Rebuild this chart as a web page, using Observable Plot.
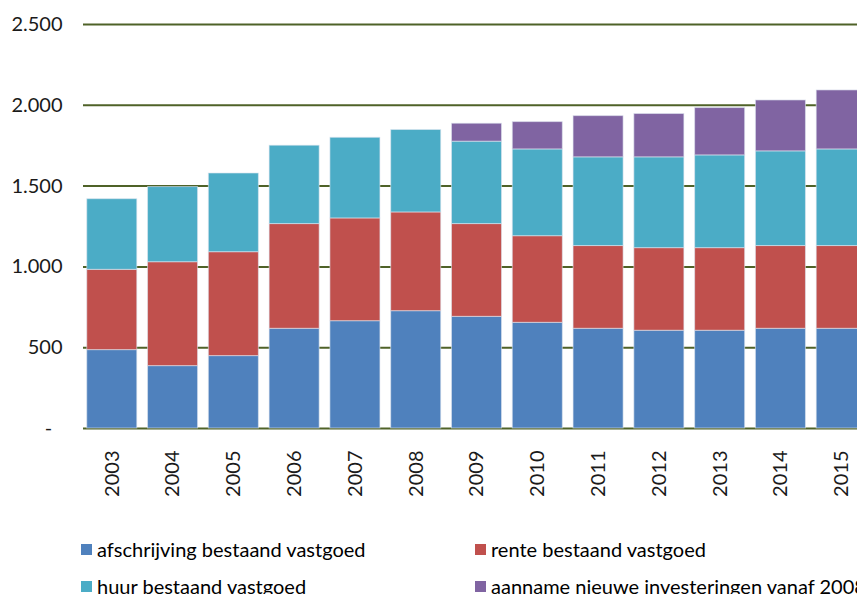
<!DOCTYPE html>
<html>
<head>
<meta charset="utf-8">
<script src="https://cdn.jsdelivr.net/npm/d3@7"></script>
<script src="https://cdn.jsdelivr.net/npm/@observablehq/plot@0.6"></script>
<style>
  html, body { margin: 0; padding: 0; background: #fff; overflow: hidden; width: 857px; height: 594px; }
  #chart { position: absolute; left: 0; top: 0; }
  #chart svg { max-width: none !important; }
  .legend { position: absolute; left: 0; top: 0; font-family: Lato, "Liberation Sans", sans-serif; font-size: 20px; color: #000; }
  .item { position: absolute; white-space: nowrap; display: flex; align-items: center; }
  .sw { width: 11px; height: 11px; margin-right: 5px; display: inline-block; }
</style>
</head>
<body>
<div id="chart"></div>
<div class="legend" id="legend"></div>
<script>
const years = ["2003","2004","2005","2006","2007","2008","2009","2010","2011","2012","2013","2014","2015"];
const seriesNames = ["afschrijving bestaand vastgoed","rente bestaand vastgoed","huur bestaand vastgoed","aanname nieuwe investeringen vanaf 2008"];
const colors = ["#4F81BD","#C0504D","#4BACC6","#8064A2"];
const afschrijving = [485,386,448,617,664,726,691,654,617,605,605,617,617];
const rente = [497,643,643,648,636,611,574,536,512,511,511,512,512];
const huur = [437,465,487,485,499,510,510,537,549,562,574,586,598];
const nieuw = [0,0,0,0,0,0,111,169,255,268,293,315,365];
const yTicks = [0,500,1000,1500,2000,2500];

const seriesValues = [afschrijving, rente, huur, nieuw];
const data = [];
years.forEach((yr, i) => {
  seriesNames.forEach((s, j) => data.push({year: yr, series: s, value: seriesValues[j][i]}));
});

const fmt = d3.formatLocale({decimal: ",", thousands: ".", grouping: [3], currency: ["", ""]}).format(",d");

const chart = Plot.plot({
  width: 877,
  height: 510,
  marginLeft: 76,
  marginRight: 0,
  marginTop: 24,
  marginBottom: 82,
  style: {fontFamily: "Lato, 'Liberation Sans', sans-serif", fontSize: "20px", color: "#1a1a1a", background: "white", maxWidth: "none"},
  x: {domain: years, padding: 0.177, round: false, label: null},
  y: {domain: [0, 2500], label: null},
  color: {domain: seriesNames, range: colors},
  marks: [
    Plot.ruleY(yTicks, {stroke: "#4F6228", strokeWidth: 2, insetLeft: 7}),
    Plot.barY(data, {x: "year", y: "value", fill: "series", stroke: "#dfe6f0", strokeWidth: 1, strokeOpacity: 0.6, order: seriesNames}),
    Plot.axisY({ticks: yTicks, tickSize: 0, tickPadding: 14, tickFormat: d => d === 0 ? "-\u00a0\u00a0" : fmt(d), fontSize: 20}),
    Plot.axisX({tickSize: 0, tickRotate: -90, tickPadding: 22, fontSize: 20})
  ]
});
chart.style.maxWidth = "none";
document.getElementById("chart").appendChild(chart);

const legend = document.getElementById("legend");
const pos = [[81, 549], [475, 549], [81, 586], [475, 586]];
seriesNames.forEach((s, i) => {
  const d = document.createElement("div");
  d.className = "item";
  d.style.left = pos[i][0] + "px";
  d.style.top = (pos[i][1] - 12) + "px";
  d.style.height = "24px";
  d.innerHTML = `<span class="sw" style="background:${colors[i]}"></span><span>${s}</span>`;
  legend.appendChild(d);
});
</script>
</body>
</html>
